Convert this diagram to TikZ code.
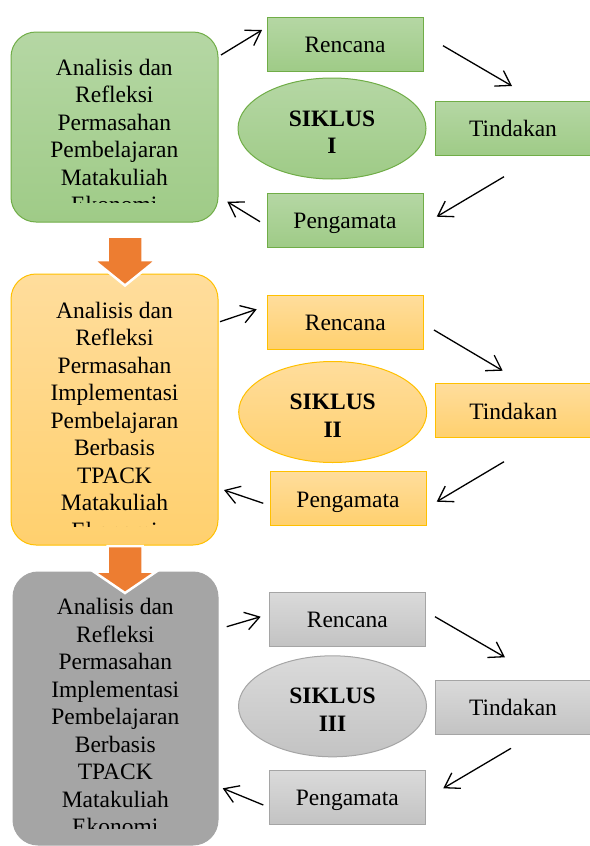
\documentclass[tikz,border=0pt]{standalone}
\usepackage{fontspec}
\setmainfont{Liberation Serif}
\usetikzlibrary{arrows.meta,shapes.geometric}
\definecolor{gFillT}{HTML}{B5D7A4}
\definecolor{gFillB}{HTML}{9FCB87}
\definecolor{gLine}{HTML}{70AD47}
\definecolor{yFillT}{HTML}{FFDD9C}
\definecolor{yFillB}{HTML}{FFD06E}
\definecolor{yLine}{HTML}{FFC000}
\definecolor{sFillT}{HTML}{DADADA}
\definecolor{sFillB}{HTML}{C3C3C3}
\definecolor{sLine}{HTML}{A5A5A5}
\definecolor{bigGrey}{HTML}{A5A5A5}
\definecolor{arrOrange}{HTML}{ED7D31}
\tikzset{
  txt/.style={font=\fontsize{23.5}{27.5}\selectfont},
  bigbox/.style={rectangle, rounded corners=25pt, line width=1pt, inner sep=0pt, minimum width=207pt},
  stepbox/.style={rectangle, draw, line width=1pt, minimum width=156pt, minimum height=54pt, inner sep=0pt, text height=22pt, text depth=5.4pt, txt},
  cyc/.style={ellipse, draw, line width=1pt, minimum width=188pt, minimum height=101pt, inner sep=0pt},
  cyctxt/.style={txt, font=\fontsize{23.5}{27.6}\selectfont\bfseries, align=center, anchor=north, inner sep=0pt},
  bodytxt/.style={txt, align=center, anchor=north, inner sep=0pt},
  green/.style={draw=gLine, top color=gFillT, bottom color=gFillB},
  gold/.style={draw=yLine, top color=yFillT, bottom color=yFillB},
  silver/.style={draw=sLine, top color=sFillT, bottom color=sFillB},
  flow/.style={line width=1.3pt, -{Straight Barb[length=14pt,width=18pt,line width=1.3pt]}},
  bigarrow/.style={fill=arrOrange, draw=white, line width=2.5pt, line join=miter}
}
\begin{document}
\begin{tikzpicture}[x=1pt,y=-1pt]
\useasboundingbox (0,0) rectangle (589,846);
% ---------- big left boxes ----------
\node[bigbox, green, minimum height=190pt] (a1) at (114.5,127) {};
\node[bigbox, gold, minimum height=271pt] (a2) at (114.5,409.5) {};
\node[bigbox, fill=bigGrey, draw=bigGrey, minimum width=205pt, minimum height=273pt] (a3) at (115.5,708.5) {};
\begin{scope}
  \clip (11,32) rectangle (218,202);
  \node[bodytxt] (t1) at (114.3,58.5) {Analisis dan\\Refleksi\\Permasahan\\Pembelajaran\\Matakuliah\\Ekonomi};
\end{scope}
\begin{scope}
  \clip (11,274) rectangle (218,526);
  \node[bodytxt] (t2) at (114.5,301.5) {Analisis dan\\Refleksi\\Permasahan\\Implementasi\\Pembelajaran\\Berbasis\\TPACK\\Matakuliah\\Ekonomi};
\end{scope}
\begin{scope}
  \clip (13,572) rectangle (218,828);
  \node[bodytxt] (t3) at (115.3,598) {Analisis dan\\Refleksi\\Permasahan\\Implementasi\\Pembelajaran\\Berbasis\\TPACK\\Matakuliah\\Ekonomi};
\end{scope}
% ---------- cycle 1 ----------
\node[stepbox, green] (r1) at (345,44) {Rencana};
\node[stepbox, green] (d1) at (513,128) {Tindakan};
\node[stepbox, green] (p1) at (345,220) {Pengamata};
\node[cyc, green] (s1) at (332,128.5) {};
\node[cyctxt] (s1t) at ([yshift=18.2pt]s1.center) {SIKLUS\\I};
% ---------- cycle 2 ----------
\node[stepbox, gold] (r2) at (345.3,322.5) {Rencana};
\node[stepbox, gold] (d2) at (513.3,410.7) {Tindakan};
\node[stepbox, gold] (p2) at (348,498.7) {Pengamata};
\node[cyc, gold] (s2) at (332.7,412) {};
\node[cyctxt] (s2t) at ([yshift=18.2pt]s2.center) {SIKLUS\\II};
% ---------- cycle 3 ----------
\node[stepbox, silver] (r3) at (347.3,619) {Rencana};
\node[stepbox, silver] (d3) at (513,707) {Tindakan};
\node[stepbox, silver] (p3) at (347.3,797.5) {Pengamata};
\node[cyc, silver] (s3) at (332.5,706.3) {};
\node[cyctxt] (s3t) at ([yshift=18.2pt]s3.center) {SIKLUS\\III};
% ---------- connector ends ----------
\coordinate (a1o) at (221,55);    \coordinate (r1i) at (262,30);
\coordinate (r1o) at (443,45.7);  \coordinate (d1i) at (512,86);
\coordinate (d1o) at (504,176.7); \coordinate (p1i) at (436.7,216.7);
\coordinate (p1o) at (260,221.7); \coordinate (a1i) at (227.3,201.7);
\coordinate (a2o) at (220,321.7);   \coordinate (r2i) at (256.7,309.3);
\coordinate (r2o) at (434,330);     \coordinate (d2i) at (502.7,370.7);
\coordinate (d2o) at (504,461.7);   \coordinate (p2i) at (436.7,501.7);
\coordinate (p2o) at (263.3,503.3); \coordinate (a2i) at (224,490);
\coordinate (a3o) at (226.7,626.7); \coordinate (r3i) at (260.7,616.7);
\coordinate (r3o) at (435,616.7);   \coordinate (d3i) at (505,657.3);
\coordinate (d3o) at (511,748.3);   \coordinate (p3i) at (443.3,788.3);
\coordinate (p3o) at (263.3,805);   \coordinate (a3i) at (222.7,788.3);
\draw[flow] (a1o) -- (r1i);
\draw[flow] (r1o) -- (d1i);
\draw[flow] (d1o) -- (p1i);
\draw[flow] (p1o) -- (a1i);
\draw[flow] (a2o) -- (r2i);
\draw[flow] (r2o) -- (d2i);
\draw[flow] (d2o) -- (p2i);
\draw[flow] (p2o) -- (a2i);
\draw[flow] (a3o) -- (r3i);
\draw[flow] (r3o) -- (d3i);
\draw[flow] (d3o) -- (p3i);
\draw[flow] (p3o) -- (a3i);
% ---------- big orange arrows ----------
\path[bigarrow] (107.5,236.5) -- (142.5,236.5) -- (142.5,260) -- (156.5,260) -- (125,285.5) -- (93.5,260) -- (107.5,260) -- cycle;
\path[bigarrow] (107.5,546) -- (142.5,546) -- (142.5,571.5) -- (156.5,571.5) -- (125,593) -- (93.5,571.5) -- (107.5,571.5) -- cycle;
\end{tikzpicture}
\end{document}
